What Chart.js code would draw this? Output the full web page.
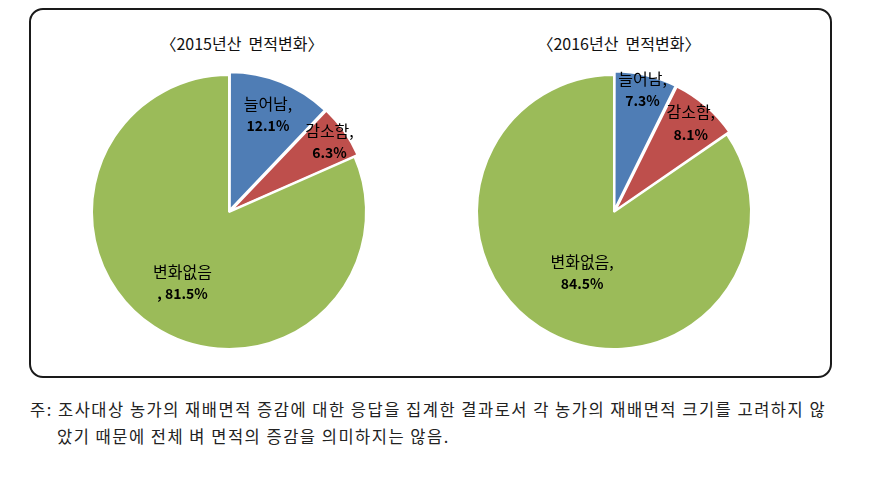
<!DOCTYPE html>
<html>
<head>
<meta charset="utf-8">
<script src="https://cdn.jsdelivr.net/npm/chart.js@4.4.0/dist/chart.umd.min.js"></script>
<style>
  body { margin:0; background:#fff; width:869px; height:487px; position:relative; overflow:hidden;
         font-family:"Noto Sans CJK KR","Noto Sans",sans-serif; }
  #frame { position:absolute; left:29px; top:8px; width:799px; height:366px;
           border:2px solid #1a1a1a; border-radius:14px; }
  .ttl { position:absolute; top:31px; width:220px; text-align:center; font-size:16px; color:#111; white-space:pre; }
  canvas { position:absolute; }
  .note { position:absolute; font-size:16.5px; letter-spacing:1.5px; color:#222; white-space:pre; }
</style>
</head>
<body>
<div id="frame"></div>
<div class="ttl" style="left:132px">〈2015년산  면적변화〉</div>
<div class="ttl" style="left:509px">〈2016년산  면적변화〉</div>
<canvas id="pie2015" width="300" height="300" style="left:79px;top:62px"></canvas>
<canvas id="pie2016" width="300" height="300" style="left:464px;top:62px"></canvas>
<div class="note" style="left:30px;top:397px">주: 조사대상 농가의 재배면적 증감에 대한 응답을 집계한 결과로서 각 농가의 재배면적 크기를 고려하지 않</div>
<div class="note" style="left:57px;top:424px">았기 때문에 전체 벼 면적의 증감을 의미하지는 않음.</div>
<script>
const categories = ['늘어남', '감소함', '변화없음'];
const values2015 = [12.1, 6.3, 81.5];
const values2016 = [7.3, 8.1, 84.5];
const colors = ['#4F7DB5', '#BE4F4C', '#9BBB59'];
const explode = [9, 9, 0];

// label placement (fraction of radius) and where the comma goes
const labelPos2015 = [0.70, 0.83, 0.62];
const labelPos2016 = [0.85, 0.79, 0.50];
const commaOnValue2015 = [false, false, true];
const commaOnValue2016 = [false, false, false];

const sliceLabels = {
  id: 'sliceLabels',
  afterDatasetsDraw(chart, args, opts) {
    const ctx = chart.ctx;
    const meta = chart.getDatasetMeta(0);
    const vals = chart.data.datasets[0].data;
    meta.data.forEach((arc, i) => {
      const p = arc.getProps(['x', 'y', 'startAngle', 'endAngle', 'outerRadius'], true);
      const mid = (p.startAngle + p.endAngle) / 2;
      const d = explode[i] + opts.pos[i] * p.outerRadius;
      const cx = p.x + Math.cos(mid) * d;
      const cy = p.y + Math.sin(mid) * d;
      const top = opts.comma[i] ? categories[i] : categories[i] + ',';
      const bottom = (opts.comma[i] ? ', ' : '') + vals[i].toFixed(1) + '%';
      ctx.save();
      ctx.fillStyle = '#000';
      ctx.textAlign = 'center';
      ctx.textBaseline = 'middle';
      ctx.font = '16px "Noto Sans CJK KR"';
      ctx.fillText(top, cx, cy - 11);
      ctx.font = 'bold 14px "Noto Sans CJK KR"';
      ctx.fillText(bottom, cx, cy + 11);
      ctx.restore();
    });
  }
};

function makePie(id, values, pos, comma) {
  return new Chart(document.getElementById(id).getContext('2d'), {
    type: 'pie',
    data: {
      labels: categories,
      datasets: [{
        data: values,
        backgroundColor: colors,
        borderColor: '#ffffff',
        borderWidth: 2,
        offset: explode
      }]
    },
    options: {
      responsive: false,
      animation: false,
      events: [],
      radius: 137,
      plugins: {
        legend: { display: false },
        tooltip: { enabled: false },
        sliceLabels: { pos: pos, comma: comma }
      }
    },
    plugins: [sliceLabels]
  });
}

makePie('pie2015', values2015, labelPos2015, commaOnValue2015);
makePie('pie2016', values2016, labelPos2016, commaOnValue2016);
</script>
</body>
</html>
